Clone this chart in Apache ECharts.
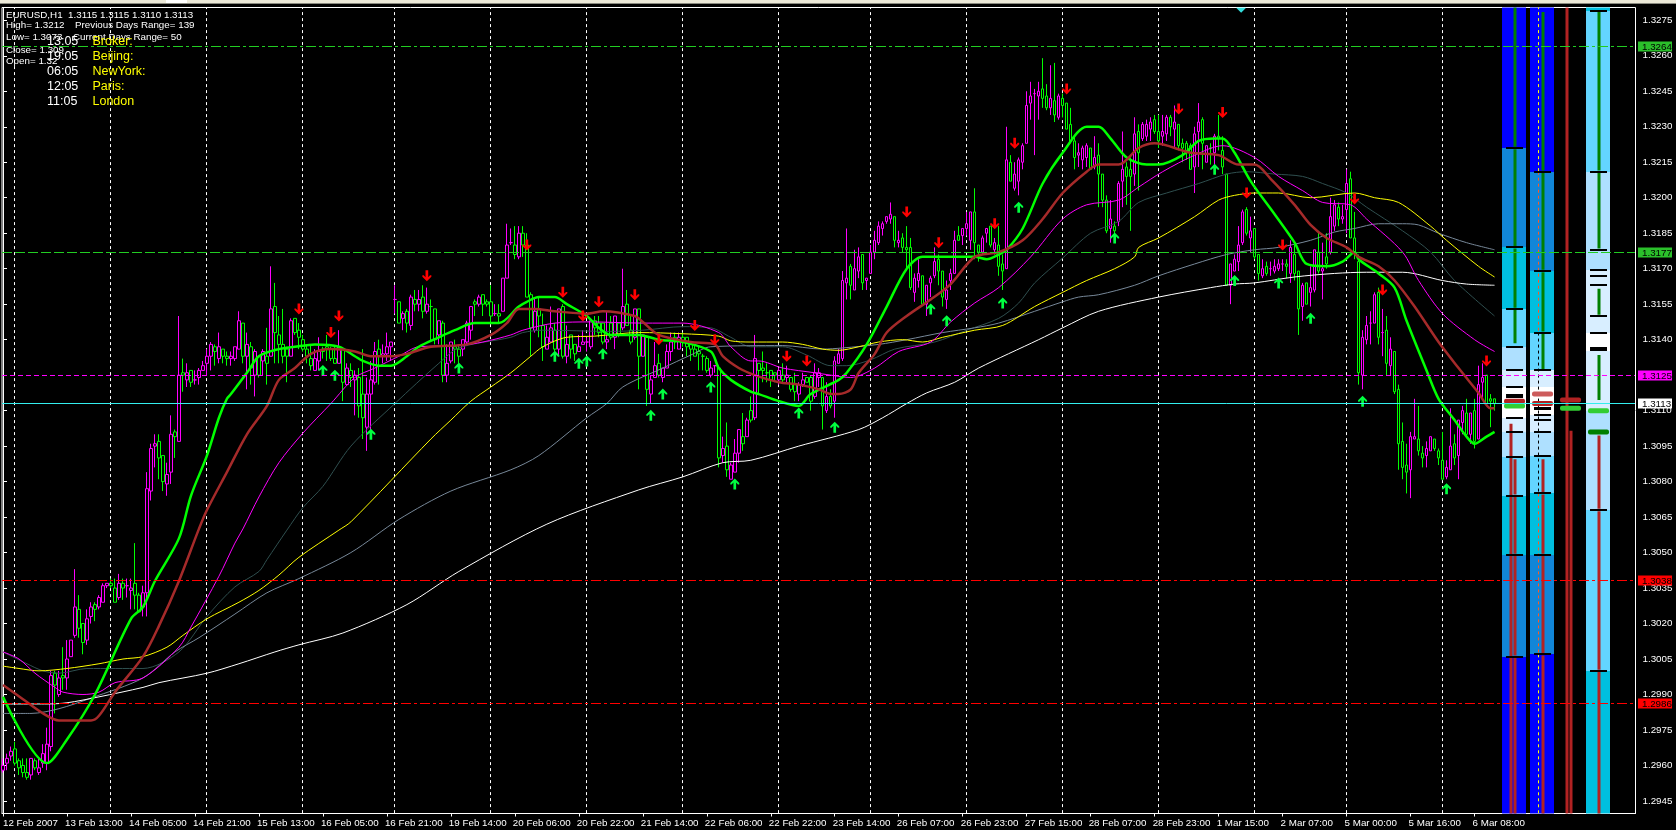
<!DOCTYPE html>
<html><head><meta charset="utf-8"><title>EURUSD,H1</title>
<style>html,body{margin:0;padding:0;background:#000}#c{width:1676px;height:830px}</style>
<script src="https://cdn.jsdelivr.net/npm/echarts@6/dist/echarts.min.js"></script></head>
<body><div id="c"></div><script>
// all prices in 1/10000 (13115 = 1.3115)
const opens=[12958,12961,12964,12967,12962,12960,12957,12956,12962,12957,
12961,12961,12968,12999,12990,12998,12997,13006,13015,13026,
13020,13013,13023,13028,13027,13029,13036,13037,13035,13031,
13037,13036,13034,13037,13032,13027,13033,13076,13095,13097,
13091,13079,13084,13101,13097,13126,13123,13127,13123,13124,
13127,13130,13133,13137,13132,13136,13133,13132,13132,13136,
13147,13133,13137,13125,13133,13131,13133,13133,13154,13142,
13138,13136,13133,13149,13144,13140,13136,13132,13127,13131,
13136,13137,13136,13132,13130,13136,13121,13127,13123,13124,
13117,13103,13117,13122,13136,13133,13134,13137,13157,13156,
13149,13152,13146,13157,13155,13158,13152,13154,13153,13142,
13147,13125,13131,13137,13136,13136,13139,13144,13156,13155,
13159,13156,13156,13151,13151,13152,13166,13181,13180,13175,
13185,13180,13159,13144,13153,13146,13136,13139,13144,13136,
13154,13133,13142,13138,13135,13138,13139,13137,13148,13147,
13147,13139,13147,13141,13147,13145,13155,13144,13141,13153,
13133,13141,13117,13124,13130,13124,13128,13135,13141,13136,
13141,13141,13138,13136,13135,13133,13132,13125,13129,13128,
13091,13095,13081,13084,13092,13099,13099,13110,13107,13130,
13128,13126,13127,13126,13123,13125,13124,13124,13121,13117,
13121,13124,13124,13116,13124,13124,13110,13116,13114,13130,
13132,13164,13171,13161,13169,13176,13165,13168,13177,13181,
13187,13190,13191,13192,13181,13183,13179,13179,13160,13165,
13167,13155,13164,13167,13174,13169,13157,13165,13168,13184,
13184,13187,13182,13194,13180,13177,13185,13188,13178,13180,
13172,13170,13215,13204,13207,13215,13223,13240,13244,13243,
13246,13243,13238,13241,13234,13242,13240,13231,13224,13218,
13216,13217,13221,13213,13218,13210,13199,13187,13188,13190,
13207,13213,13212,13210,13228,13225,13226,13229,13233,13228,
13226,13227,13234,13229,13231,13223,13223,13222,13213,13228,
13233,13215,13221,13219,13226,13220,13210,13163,13169,13173,
13181,13195,13183,13187,13176,13167,13171,13170,13169,13170,
13172,13172,13168,13176,13169,13154,13164,13160,13161,13177,
13169,13175,13177,13188,13196,13191,13195,13208,13183,13173,
13125,13140,13147,13147,13160,13143,13144,13129,13135,13119,
13097,13087,13085,13098,13098,13092,13091,13093,13098,13093,
13089,13082,13085,13096,13091,13105,13109,13100,13110,13098,
13122,13125,13115,13115];
const closes=[12960,12963,12966,12961,12959,12957,12955,12963,12959,12959,
12965,12969,12998,12994,12997,12997,13005,13013,13027,13018,
13012,13022,13027,13026,13031,13036,13037,13036,13029,13037,
13035,13036,13035,13032,13025,13033,13077,13094,13096,13090,
13080,13083,13100,13099,13125,13125,13126,13122,13123,13127,
13129,13133,13138,13135,13137,13133,13132,13133,13137,13148,
13133,13138,13128,13135,13125,13135,13130,13153,13143,13138,
13133,13133,13148,13143,13141,13136,13133,13129,13132,13135,
13135,13136,13132,13130,13137,13122,13128,13124,13125,13112,
13107,13117,13123,13135,13133,13134,13137,13139,13157,13147,
13151,13147,13158,13155,13157,13152,13155,13154,13140,13148,
13125,13130,13139,13136,13133,13140,13147,13154,13155,13158,
13155,13155,13150,13151,13150,13166,13180,13181,13176,13185,
13180,13158,13145,13152,13150,13137,13141,13145,13136,13153,
13133,13138,13136,13134,13137,13139,13139,13148,13145,13143,
13139,13140,13141,13150,13142,13154,13146,13139,13153,13133,
13142,13119,13123,13129,13125,13128,13135,13139,13139,13141,
13139,13137,13136,13133,13134,13133,13127,13128,13129,13090,
13094,13085,13087,13092,13102,13096,13106,13106,13132,13127,
13127,13126,13123,13125,13127,13123,13125,13119,13118,13121,
13123,13122,13114,13126,13126,13112,13116,13112,13131,13134,
13165,13166,13163,13170,13175,13164,13166,13177,13182,13188,
13189,13192,13193,13182,13182,13179,13178,13162,13166,13168,
13155,13163,13166,13173,13169,13158,13161,13168,13182,13182,
13187,13189,13194,13181,13177,13183,13187,13180,13181,13171,
13169,13216,13207,13210,13216,13222,13239,13243,13244,13245,
13242,13238,13242,13235,13243,13239,13229,13224,13217,13219,
13221,13222,13212,13217,13210,13199,13186,13191,13186,13206,
13212,13209,13209,13227,13219,13231,13231,13232,13228,13224,
13228,13234,13230,13232,13222,13221,13220,13212,13227,13232,
13223,13222,13221,13226,13225,13213,13163,13172,13174,13180,
13194,13185,13186,13175,13168,13170,13168,13170,13171,13172,
13172,13171,13179,13168,13153,13163,13155,13162,13178,13169,
13170,13172,13192,13197,13191,13192,13206,13183,13177,13126,
13141,13146,13147,13159,13141,13143,13130,13136,13118,13096,
13086,13084,13099,13099,13093,13090,13094,13099,13094,13090,
13081,13086,13095,13090,13106,13110,13100,13109,13097,13121,
13124,13113,13114,13113];
const lows=[12957,12958,12962,12960,12956,12955,12954,12954,12958,12956,
12959,12958,12966,12982,12989,12992,12992,13006,13014,13014,
13007,13011,13020,13021,13026,13029,13035,13035,13029,13030,
13030,13031,13026,13026,13025,13023,13023,13072,13086,13081,
13076,13074,13079,13090,13097,13118,13120,13120,13121,13121,
13127,13125,13127,13129,13130,13130,13129,13129,13131,13136,
13130,13119,13121,13116,13124,13125,13121,13133,13130,13130,
13130,13122,13133,13142,13136,13135,13130,13127,13127,13127,
13132,13131,13131,13130,13130,13114,13121,13120,13108,13107,
13098,13093,13100,13121,13121,13130,13131,13131,13151,13147,
13144,13143,13144,13152,13152,13149,13151,13139,13138,13138,
13122,13122,13130,13130,13130,13133,13138,13140,13150,13154,
13150,13154,13147,13150,13147,13152,13166,13180,13174,13174,
13175,13158,13133,13143,13141,13131,13136,13139,13135,13133,
13132,13130,13132,13131,13135,13138,13135,13136,13142,13141,
13138,13136,13140,13136,13141,13144,13146,13138,13140,13119,
13133,13112,13113,13124,13124,13122,13128,13131,13136,13136,
13137,13133,13131,13133,13127,13127,13126,13124,13126,13086,
13088,13082,13081,13084,13088,13093,13099,13105,13106,13117,
13122,13122,13120,13122,13121,13122,13122,13118,13114,13114,
13120,13122,13110,13115,13120,13102,13109,13111,13107,13130,
13131,13157,13157,13161,13166,13161,13161,13168,13174,13180,
13184,13189,13189,13179,13179,13177,13169,13161,13156,13162,
13155,13150,13158,13166,13163,13154,13153,13161,13168,13182,
13180,13184,13178,13174,13173,13176,13181,13179,13176,13167,
13161,13170,13207,13203,13201,13212,13223,13233,13218,13233,
13238,13237,13235,13232,13233,13234,13229,13223,13212,13213,
13212,13213,13212,13212,13196,13196,13185,13181,13183,13188,
13196,13197,13186,13205,13203,13224,13224,13224,13227,13221,
13222,13224,13226,13221,13220,13215,13216,13212,13202,13213,
13212,13215,13214,13211,13220,13210,13163,13155,13169,13169,
13180,13184,13177,13174,13165,13166,13167,13167,13168,13169,
13169,13166,13164,13165,13142,13148,13155,13154,13160,13168,
13157,13170,13176,13186,13188,13189,13185,13183,13174,13121,
13119,13138,13138,13147,13138,13133,13125,13125,13117,13085,
13081,13075,13073,13098,13091,13086,13086,13093,13093,13087,
13081,13081,13085,13087,13081,13100,13099,13096,13094,13098,
13115,13113,13103,13110];
const highs=[12963,12965,12968,12970,12963,12963,12963,12963,12963,12963,
12969,12976,13000,13000,13000,13010,13013,13013,13043,13032,
13020,13026,13029,13029,13032,13037,13037,13039,13039,13041,
13039,13039,13039,13054,13033,13036,13084,13096,13100,13100,
13091,13088,13108,13102,13150,13132,13130,13127,13127,13128,
13131,13136,13139,13138,13143,13136,13135,13135,13137,13152,
13147,13143,13139,13136,13133,13136,13145,13171,13164,13150,
13153,13137,13149,13149,13147,13142,13138,13138,13136,13141,
13137,13142,13137,13137,13144,13136,13130,13130,13127,13128,
13136,13124,13131,13139,13140,13138,13143,13139,13163,13156,
13152,13153,13159,13161,13161,13163,13162,13157,13153,13148,
13148,13138,13139,13140,13138,13140,13148,13154,13157,13159,
13159,13157,13163,13155,13155,13166,13189,13187,13188,13188,
13188,13185,13160,13158,13158,13151,13146,13154,13147,13153,
13155,13146,13142,13138,13142,13144,13141,13149,13150,13150,
13147,13152,13150,13150,13147,13170,13161,13150,13153,13153,
13142,13141,13125,13139,13134,13128,13138,13143,13143,13143,
13143,13141,13139,13138,13137,13134,13133,13131,13129,13129,
13099,13105,13088,13098,13102,13109,13107,13116,13142,13130,
13135,13130,13127,13126,13128,13130,13129,13124,13126,13122,
13126,13124,13125,13130,13128,13124,13122,13119,13133,13136,
13169,13187,13172,13178,13179,13176,13166,13180,13186,13190,
13190,13192,13198,13192,13186,13185,13188,13183,13168,13174,
13167,13163,13167,13179,13176,13169,13165,13170,13186,13188,
13187,13194,13194,13204,13180,13184,13187,13188,13183,13188,
13176,13230,13218,13215,13217,13223,13245,13249,13246,13249,
13259,13248,13256,13257,13244,13244,13240,13238,13226,13223,
13222,13223,13221,13226,13223,13210,13201,13199,13190,13207,
13228,13215,13217,13234,13231,13232,13233,13234,13235,13235,
13235,13235,13235,13239,13231,13225,13224,13223,13230,13240,
13234,13222,13223,13227,13235,13226,13210,13172,13176,13188,
13195,13196,13192,13187,13176,13174,13173,13173,13174,13174,
13174,13174,13182,13180,13169,13164,13164,13171,13178,13186,
13181,13185,13200,13199,13198,13197,13212,13211,13194,13176,
13144,13150,13152,13160,13162,13153,13150,13141,13135,13121,
13105,13096,13101,13115,13112,13095,13097,13099,13098,13094,
13101,13089,13111,13100,13106,13112,13115,13109,13115,13129,
13130,13125,13117,13115];

// moving averages: bar, price
const maFast=[[0,12989],[11,12961],[16,12971],[23,12990],[32,13022],[35,13027],[38,13038],[44,13056],[47,13074],[51,13091],[54,13107],[56,13115],[57,13117],[61,13126],[64,13133],[69,13136],[73,13137],[78,13138],[84,13137],[88,13133],[90,13131],[94,13129],[97,13129],[101,13133],[104,13137],[109,13141],[113,13144],[118,13147],[124,13147],[129,13154],[131,13156],[134,13158],[138,13158],[141,13155],[146,13150],[149,13145],[152,13142],[159,13142],[164,13140],[170,13139],[177,13135],[179,13128],[182,13123],[187,13118],[189,13117],[194,13114],[199,13112],[202,13117],[209,13123],[211,13126],[216,13138],[221,13154],[226,13170],[230,13175],[243,13175],[246,13174],[249,13176],[251,13178],[255,13187],[260,13206],[265,13219],[271,13230],[274,13230],[277,13225],[281,13217],[286,13214],[289,13214],[295,13218],[299,13224],[303,13225],[305,13225],[308,13219],[312,13207],[318,13193],[323,13181],[326,13172],[331,13171],[335,13173],[338,13177],[339,13174],[344,13168],[348,13162],[351,13148],[356,13127],[359,13115],[363,13106],[366,13099],[368,13096],[371,13099],[373,13101]];
const maBrown=[[0,12994],[5,12988],[10,12982],[14,12979],[22,12979],[24,12981],[28,12991],[35,13006],[39,13019],[44,13038],[49,13060],[51,13068],[56,13084],[61,13100],[66,13112],[69,13123],[73,13128],[77,13134],[82,13136],[88,13135],[92,13133],[97,13133],[101,13134],[107,13137],[116,13138],[122,13142],[126,13147],[129,13153],[133,13153],[138,13152],[146,13151],[150,13152],[158,13150],[160,13147.5],[164,13142],[172,13139],[178,13138],[180,13133],[184,13128],[188,13125],[194,13122],[199,13121],[204,13119],[207,13117],[209,13117],[212,13119],[214,13126],[218,13134],[221,13143],[226,13150],[232,13157],[237,13163.5],[243,13175],[249,13177],[255,13182],[260,13191],[265,13202],[271,13211],[274,13214],[279,13214],[284,13221],[288,13223],[297,13219],[304,13218],[309,13214],[313,13214],[317,13208],[323,13197],[327,13188.5],[331,13183],[336,13179],[339,13175],[344,13171],[348,13165],[353,13154],[359,13139],[364,13128],[369,13117.5],[372,13111],[373,13111]];
const maMagenta=[[0,13008],[4,13005],[8,12999],[13,12993],[15,12991],[20,12990],[24,12991],[28,12995],[35,12997],[44,13010],[47,13018.5],[54,13040],[58,13054],[60,13060],[64,13073.5],[69,13088],[75,13100.5],[82,13113],[88,13124],[93,13128],[99,13133],[104,13137],[114,13137.5],[120,13139],[127,13142],[130,13144],[138,13147],[147,13147.5],[160,13147],[170,13147],[179,13143],[182,13137],[187,13131],[189,13131],[195,13128],[203,13126],[207,13125],[212,13124],[218,13128],[224,13135],[232,13139],[237,13147.5],[243,13155.5],[249,13162],[257,13175],[265,13191],[271,13197],[279,13199],[284,13204.5],[290,13211],[298,13218],[305,13222],[313,13217],[319,13209],[325,13203],[330,13198],[337,13197],[341,13191],[350,13177],[354,13165],[360,13151],[368,13140],[373,13135]];
const maSlateDark=[[0,13008],[6,13003],[10,13000],[14,12999],[21,13001],[35,13001],[44,13008],[51,13023],[58,13035.5],[64,13042],[66,13047],[71,13059.5],[75,13069],[80,13078],[87,13095],[98,13113],[109,13130],[114,13136.5],[127,13141],[130,13143],[135,13144],[152,13143.5],[160,13144],[170,13145.5],[177,13145],[182,13141],[187,13137],[195,13137],[201,13133.5],[207,13129],[211,13129],[217,13131.5],[223,13136],[233,13139],[241,13144],[249,13149],[254,13155.5],[258,13164],[265,13174.5],[272,13185],[279,13190],[284,13198],[291,13202],[299,13206],[306,13210],[311,13211],[318,13210],[325,13209],[330,13206],[336,13202],[341,13196],[350,13186],[357,13177],[363,13165],[373,13150]];
const maYellow=[[0,13002],[4,13001],[9,13000],[16,13001],[24,13003],[30,13005],[35,13006],[41,13010],[45,13015],[51,13022],[59,13029],[64,13034],[69,13040.5],[74,13048],[84,13059.5],[87,13063],[107,13098],[112,13106],[117,13114],[122,13120],[127,13126],[132,13133],[135,13137],[141,13141],[148,13141.5],[159,13143],[170,13142.5],[179,13141.5],[182,13139.5],[187,13139],[195,13139],[200,13138],[205,13136],[209,13135.5],[214,13137],[219,13139],[225,13140],[230,13139],[235,13141],[243,13144],[250,13146],[258,13154],[265,13160],[271,13165],[278,13170],[283,13175],[284,13179],[289,13183],[298,13192],[304,13199],[308,13201],[313,13202],[319,13202],[327,13200],[338,13202],[343,13200],[349,13198],[357,13188],[361,13182],[369,13171],[373,13166.5]];
const maSlate=[[0,12982],[7,12982],[14,12984],[22,12988.5],[35,12997],[43,13008],[49,13014],[58,13024],[66,13033],[74,13039],[87,13050],[99,13064],[112,13076],[127,13085],[134,13091],[146,13107],[151,13113],[155,13120],[165,13128],[172,13133.5],[177,13137],[195,13137.5],[205,13136],[210,13136.5],[219,13138],[226,13140],[235,13143],[243,13145],[249,13147],[258,13152],[265,13156],[269,13158],[274,13159],[283,13163],[289,13167],[298,13172],[306,13176],[313,13178],[319,13179],[327,13182],[333,13185.5],[338,13187],[344,13189],[350,13189],[354,13188.5],[359,13185],[366,13181],[373,13178]];
const maWhite=[[0,12986],[11,12986],[16,12986.5],[24,12989],[35,12993],[39,12995],[51,12999],[59,13003],[68,13008],[74,13011],[85,13016],[101,13028],[114,13042],[136,13062],[159,13076.5],[170,13082],[180,13088],[187,13089],[199,13095],[214,13102],[220,13107],[226,13113],[231,13117.5],[238,13122],[244,13128],[259,13140],[265,13145],[274,13152],[289,13158],[302,13162],[308,13163.5],[313,13164],[323,13166.5],[333,13168],[341,13168.5],[350,13168.5],[360,13165],[366,13163.5],[373,13163]];

// arrow signals: bar, price
const downArrows=[[74,13153],[82,13143],[84,13150],[106,13167],[131,13180],[140,13160],[145,13150],[149,13156],[158,13159],[164,13140],[173,13146],[178,13140],[196,13133],[201,13131],[226,13194],[234,13181],[248,13189],[253,13223],[266,13246],[294,13237.5],[305,13236],[311,13202],[320,13180],[338,13199.5],[345,13161],[371,13131]];
const upArrows=[[80,13127],[83,13125],[92,13100],[114,13128],[138,13133],[144,13130],[146,13131],[150,13134],[162,13108],[165,13117],[177,13120],[183,13079],[199,13109],[208,13103],[232,13153],[236,13148],[250,13155.5],[254,13196],[278,13183],[303,13212],[308,13165],[319,13164],[327,13149],[340,13114],[361,13077]];

// axes
const dayBars=[3,27,51,75,98,122,146,170,194,217,241,265,289,313,336,360];
const dateBars=[0,16,32,48,64,80,96,112,128,144,160,176,192,208,224,240,256,272,288,304,320,336,352,368];
const dateLabels=['12 Feb 2007','13 Feb 13:00','14 Feb 05:00','14 Feb 21:00','15 Feb 13:00','16 Feb 05:00','16 Feb 21:00','19 Feb 14:00','20 Feb 06:00','20 Feb 22:00','21 Feb 14:00','22 Feb 06:00','22 Feb 22:00','23 Feb 14:00','26 Feb 07:00','26 Feb 23:00','27 Feb 15:00','28 Feb 07:00','28 Feb 23:00','1 Mar 15:00','2 Mar 07:00','5 Mar 00:00','5 Mar 16:00','6 Mar 08:00'];
const priceTicks=[12945,12960,12975,12990,13005,13020,13035,13050,13065,13080,13095,13110,13125,13140,13155,13170,13185,13200,13215,13230,13245,13260,13275];

// right-hand level columns: price boundaries and shade names
const band1Levels=[13281,13221,13179,13153,13137,13127,13120,13107,13101,13090.5,13074,13049,13006,12939];
const band1Shades=['blue','mid','cyan','light','lighter','pale','white','pale','lighter','light','cyan','mid','blue'];
const band2Levels=[13281,13211,13169,13143,13127,13120,13108,13101,13091,13075,13049,13007,12939];
const band2Shades=['blue','mid','cyan','light','pale','white','pale','lighter','light','cyan','mid','blue'];
const band4Levels=[13281,13279,13211,13169.5,13143,13135,13110,13068,13000,12939];
const band4Shades=['cyan','light','lighter','pale','white','pale','lighter','light','cyan'];
const ticks1=[13221,13179,13153,13137,13127,13120,13116.6,13115.6,13107,13101,13090.5,13074,13049,13006];
const ticks2=[13211,13169,13143,13127,13111,13110.5,13108,13106,13101,13091,13075,13049,13007];
const ticks4=[13279,13211,13178,13169.5,13167,13163,13150,13143,13136.4,13135.6,13068,13000];
const green1=[[13281,13221],[13221,13179],[13179,13153],[13153,13138]];
const brown1a=[[13105,12939]];
const brown1b=[[13090,13074],[13074,13049],[13049,13006],[13006,12939]];
const green2=[[13279,13211],[13211,13169],[13169,13143],[13143,13127]];
const brown2=[[13090,13075],[13075,13049],[13049,13007],[13007,12939]];
const brown3a=[[13281,12939]];
const brown3b=[[13102,12939]];
const green4=[[13279,13211],[13211,13178],[13162,13150],[13134,13114]];
const brown4=[[13100,13068],[13068,13000],[13000,12939]];
const pivots1=[13114,13112], pivots2=[13117,13113], pivots3=[13114.5,13111], pivots4=[13110,13101];
const separatorParts=[[13281,13211,'#ffff00'],[13211,13143,'#ff5a1e'],[13143,13075,'#000000'],[13075,13007,'#ff5a1e'],[13007,12939,'#ffff00']];

// horizontal price lines
const levelValues=[13264,13177,13125,13113,13038,12986];
const levelTexts=['1.3264','1.3177','1.3125','1.3113','1.3038','1.2986'];

// ---------- styling / build ----------
const toP=v=>v/10000;
const SHADE={blue:'#0000ff',mid:'#1186d8',cyan:'#00bfdf',light:'#63d5ff',lighter:'#aee0ff',pale:'#d8eeff',white:'#ffffff'};
const FONT='"Liberation Sans",Arial,sans-serif';
const pxToBar=x=>(x-2.5)/4;
const LEVEL_STYLE=[
 {c:'#22cc22',bg:'#2bc02b',dash:[10,3,3,3],fg:'#000'},
 {c:'#22cc22',bg:'#2bc02b',dash:[10,3],fg:'#000'},
 {c:'#ff00ff',bg:'#ff00ff',dash:[5,3],fg:'#000'},
 {c:'#33eeee',bg:'#ffffff',dash:null,fg:'#000'},
 {c:'#ff0000',bg:'#ff0000',dash:[10,3,3,3],fg:'#000'},
 {c:'#ff0000',bg:'#ff0000',dash:[10,3,3,3],fg:'#000'}];
const maSeries=(d,color,width,z)=>({type:'line',data:d.map(p=>[p[0],toP(p[1])]),showSymbol:false,symbol:'none',smooth:0.3,
  lineStyle:{color,width},z,silent:true,animation:false,clip:true});
const ARROW_UP='path://M5 0 L10 5 L10 6.5 L8.5 6.5 L6.5 4.5 L6.5 12 L3.5 12 L3.5 4.5 L1.5 6.5 L0 6.5 L0 5 Z';
const ARROW_DN='path://M3.5 0 L6.5 0 L6.5 7.5 L8.5 5.5 L10 5.5 L10 7 L5 12 L0 7 L0 5.5 L1.5 5.5 L3.5 7.5 Z';

const rectRows=[],segRows=[],tickRows=[],pivotRows=[];
function addBands(px0,px1,lev,sh){sh.forEach((s,i)=>rectRows.push([pxToBar(px0),pxToBar(px1),toP(lev[i]),toP(lev[i+1]),SHADE[s]]));}
addBands(1502,1526,band1Levels,band1Shades);
addBands(1530,1554,band2Levels,band2Shades);
addBands(1586,1610,band4Levels,band4Shades);
function addSegs(px,list,color){list.forEach(s=>segRows.push([pxToBar(px),toP(s[0]-0.5),toP(s[1]+0.5),color]));}
addSegs(1514.5,green1,'#008000');addSegs(1510.5,brown1a,'#b22222');addSegs(1514.5,brown1b,'#b22222');
addSegs(1542.5,green2,'#008000');addSegs(1542.5,brown2,'#b22222');
addSegs(1566.5,brown3a,'#b22222');addSegs(1570.5,brown3b,'#b22222');
addSegs(1598.5,green4,'#008000');addSegs(1598.5,brown4,'#b22222');
function addTicks(px0,px1,list){list.forEach(v=>tickRows.push([pxToBar(px0),pxToBar(px1),toP(v)]));}
addTicks(1506,1523,ticks1);addTicks(1534,1551,ticks2);addTicks(1590,1607,ticks4);
pivotRows.push([pxToBar(1504),pxToBar(1525),toP(pivots1[0]),'#b22222'],[pxToBar(1504),pxToBar(1525),toP(pivots1[1]),'#32cd32']);
pivotRows.push([pxToBar(1532),pxToBar(1553),toP(pivots2[0]),'#cd5c5c'],[pxToBar(1532),pxToBar(1553),toP(pivots2[1]),'#b22222']);
pivotRows.push([pxToBar(1560),pxToBar(1581),toP(pivots3[0]),'#b22222'],[pxToBar(1560),pxToBar(1581),toP(pivots3[1]),'#32cd32']);
pivotRows.push([pxToBar(1588),pxToBar(1609),toP(pivots4[0]),'#32cd32'],[pxToBar(1588),pxToBar(1609),toP(pivots4[1]),'#008000']);

const sepRows=dayBars.map(b=>[b,toP(13281),toP(12939),'#ffffff']).concat(separatorParts.map(p=>[384,toP(p[0]),toP(p[1]),p[2]]));

const option={
 backgroundColor:'#000',animation:false,tooltip:{show:false},
 grid:{left:1.5,top:7.5,width:1634,height:806,show:true,backgroundColor:'#000',borderColor:'#fff',borderWidth:1},
 xAxis:{type:'value',min:-0.25,max:408.25,splitLine:{show:false},
  axisLine:{show:true,onZero:false,lineStyle:{color:'#fff'}},
  axisTick:{show:true,length:3,lineStyle:{color:'#fff'},customValues:dateBars},
  axisLabel:{show:true,color:'#fff',fontFamily:FONT,fontSize:9.8,margin:5,align:'left',
   customValues:dateBars.map(b=>b===0?0:b-0.5),
   formatter:v=>dateLabels[Math.round((v+0.5)/16)]}},
 yAxis:{type:'value',position:'right',min:1.29397,max:1.328041,scale:true,splitLine:{show:false},
  axisLine:{show:true,lineStyle:{color:'#fff'}},
  axisTick:{show:true,length:4,lineStyle:{color:'#fff'},customValues:priceTicks.map(toP)},
  axisLabel:{show:true,color:'#fff',fontFamily:FONT,fontSize:9.8,margin:7,
   customValues:priceTicks.map(toP),formatter:v=>v.toFixed(4)}},
 series:[
  {type:'custom',z:1,silent:true,clip:true,data:rectRows,encode:{x:0,y:2},renderItem(p,api){
    const a=api.coord([api.value(0),api.value(2)]),b=api.coord([api.value(1),api.value(3)]);
    return {type:'rect',shape:{x:Math.round(a[0]),y:Math.round(a[1]),width:Math.round(b[0])-Math.round(a[0]),height:Math.round(b[1])-Math.round(a[1])},style:{fill:rectRows[p.dataIndex][4]}};}},
  {type:'custom',z:2,silent:true,clip:true,data:sepRows,encode:{x:0,y:1},renderItem(p,api){
    const a=api.coord([api.value(0),api.value(1)]),b=api.coord([api.value(0),api.value(2)]);
    const x=Math.floor(a[0])+0.5;
    return {type:'line',shape:{x1:x,y1:a[1],x2:x,y2:b[1]},style:{stroke:sepRows[p.dataIndex][3],lineWidth:1,lineDash:[3,3]}};}},
  {type:'candlestick',z:3,silent:true,barWidth:3,clip:true,large:false,
   data:opens.map((o,i)=>[i,toP(o),toP(closes[i]),toP(lows[i]),toP(highs[i])]),
   encode:{x:0,y:[1,2,3,4]},
   itemStyle:{color:'#000',color0:'#000',borderColor:'#ff00ff',borderColor0:'#00ff00',borderWidth:1}},
  maSeries(maSlateDark,'#2f4f4f',1,4),
  maSeries(maSlate,'#778899',1,4),
  maSeries(maWhite,'#ffffff',1,4),
  maSeries(maYellow,'#ffff00',1,4),
  maSeries(maMagenta,'#ff00ff',1,4),
  maSeries(maFast,'#00ff00',2.5,5),
  maSeries(maBrown,'#a52a2a',2.5,6),
  {type:'scatter',z:7,silent:true,symbol:ARROW_UP,symbolSize:[9,11],itemStyle:{color:'#00ff40',opacity:1},data:upArrows.map(a=>[a[0],toP(a[1])])},
  {type:'scatter',z:7,silent:true,symbol:ARROW_DN,symbolSize:[9,11],itemStyle:{color:'#ff0000',opacity:1},data:downArrows.map(a=>[a[0],toP(a[1])])},
  {type:'custom',z:8,silent:true,clip:true,data:segRows,encode:{x:0,y:1},renderItem(p,api){
    const a=api.coord([api.value(0),api.value(1)]),b=api.coord([api.value(0),api.value(2)]);
    return {type:'rect',shape:{x:Math.round(a[0])-1.5,y:a[1],width:3,height:b[1]-a[1]},style:{fill:segRows[p.dataIndex][3]}};}},
  {type:'custom',z:9,silent:true,clip:true,data:tickRows,encode:{x:0,y:2},renderItem(p,api){
    const a=api.coord([api.value(0),api.value(2)]),b=api.coord([api.value(1),api.value(2)]);
    return {type:'rect',shape:{x:a[0],y:Math.round(a[1])-1,width:b[0]-a[0],height:2},style:{fill:'#000'}};}},
  {type:'custom',z:10,silent:true,clip:true,data:pivotRows,encode:{x:0,y:2},renderItem(p,api){
    const a=api.coord([api.value(0),api.value(2)]),b=api.coord([api.value(1),api.value(2)]);
    return {type:'rect',shape:{x:a[0],y:a[1]-2.5,width:b[0]-a[0],height:5,r:2},style:{fill:pivotRows[p.dataIndex][3]}};}},
  {type:'custom',z:11,silent:true,clip:false,data:levelValues.map((v,i)=>[0,toP(v),i]),encode:{x:0,y:1},renderItem(p,api){
    const i=p.dataIndex,s=LEVEL_STYLE[i],a=api.coord([0,api.value(1)]);
    const y=Math.floor(a[1])+0.5,xL=2,xR=1635;
    return {type:'group',children:[
     {type:'line',shape:{x1:xL,y1:y,x2:xR,y2:y},style:{stroke:s.c,lineWidth:1,lineDash:s.dash}},
     {type:'rect',shape:{x:1638,y:y-5,width:34,height:10},style:{fill:s.bg}},
     {type:'text',style:{x:1642,y:y+0.5,text:levelTexts[i],fill:s.fg,font:'9.8px '+FONT,verticalAlign:'middle'}}]};}},
  {type:'scatter',z:12,silent:true,symbol:'triangle',symbolRotate:180,symbolSize:[10,5],itemStyle:{color:'#33dddd',opacity:1},data:[[pxToBar(1241),1.32792]]}
 ],
 graphic:[
  {type:'rect',z:100,shape:{x:0,y:0,width:1676,height:3},style:{fill:'#ece9d8'}},
  {type:'rect',z:100,shape:{x:0,y:3,width:1676,height:1},style:{fill:'#8a8a80'}},
  {type:'rect',z:100,shape:{x:166,y:0,width:21,height:3},style:{fill:'#ffffff'}},
  ...[['EURUSD,H1  1.3115 1.3115 1.3110 1.3113',6,15.5],['High= 1.3212',6,25.5],['Previous Days Range= 139',75,25.5],['Low= 1.3073',6,37.5],['Current Days Range= 50',73,37.5],['Close= 1.309',6,50],['Open= 1.32',6,61.5]]
   .map(t=>({type:'text',z:100,style:{x:t[1],y:t[2],text:t[0],fill:'#fff',font:'9.8px '+FONT,verticalAlign:'middle'}})),
  ...[['13:05',41.5],['19:05',56.5],['06:05',71.5],['12:05',86.5],['11:05',101.5]]
   .map(t=>({type:'text',z:100,style:{x:47,y:t[1],text:t[0],fill:'#fff',font:'12.5px '+FONT,verticalAlign:'middle'}})),
  ...[['Broker:',42],['Beijing:',56.5],['NewYork:',71.5],['Paris:',86.5],['London',101.5]]
   .map(t=>({type:'text',z:100,style:{x:92.5,y:t[1],text:t[0],fill:'#ffff00',font:'12.5px '+FONT,verticalAlign:'middle'}}))
 ]
};
const chart=echarts.init(document.getElementById('c'),null,{renderer:'canvas',width:1676,height:830});
chart.setOption(option);
</script></body></html>
